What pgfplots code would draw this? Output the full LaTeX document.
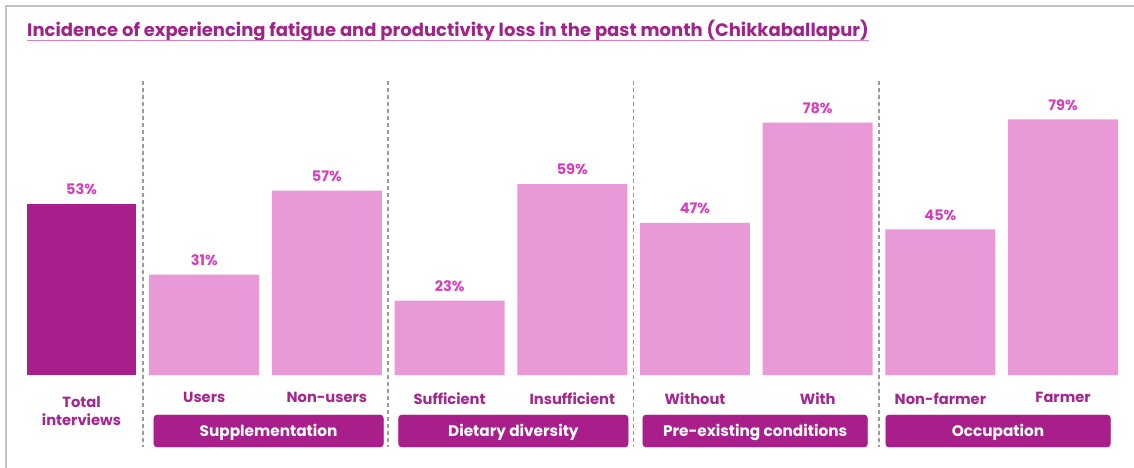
\documentclass[border=0pt]{standalone}
\usepackage{fontspec}
\setmainfont{Poppins}
\usepackage{pgfplots}
\pgfplotsset{compat=1.18}
\definecolor{dark}{HTML}{A81F8B}
\definecolor{light}{HTML}{E998D8}
\definecolor{vallab}{HTML}{D63FBB}
\definecolor{catlab}{HTML}{A3278E}
\definecolor{titlec}{HTML}{A0238A}
\definecolor{titleline}{HTML}{D77CC6}
\definecolor{sepc}{HTML}{9A9A9A}
\definecolor{framec}{HTML}{C4C4C4}
\begin{document}
\begin{tikzpicture}
\useasboundingbox (0,0) rectangle (1134pt,-467pt);
\draw[framec, line width=1.5pt] (6pt,-480pt) -- (6pt,-6pt) -- (1150pt,-6pt);
\node[anchor=base west, font=\fontsize{18}{20}\selectfont\bfseries, text=titlec, inner sep=0] (T) at (27pt,-36.5pt) {Incidence of experiencing fatigue and productivity loss in the past month (Chikkaballapur)};
\draw[titleline, line width=1pt] ([yshift=-3.5pt]T.base west) -- ([yshift=-3.5pt]T.base east);
\begin{axis}[
  at={(20.15pt,-375pt)}, anchor=south west,
  scale only axis, width=1104.3pt, height=323.5pt,
  xmin=-0.5, xmax=8.5, ymin=0, ymax=100,
  axis line style={draw=none}, tick style={draw=none},
  ytick=\empty,
  xtick={0,...,8},
  xticklabels={{\rule{0pt}{15pt}Total\\interviews},Users,Non-users,Sufficient,Insufficient,Without,With,Non-farmer,Farmer},
  xticklabel style={font=\fontsize{14.7}{18}\selectfont\bfseries, text=catlab, align=center, anchor=north, inner sep=0pt, yshift=-13pt},
  /pgf/number format/assume math mode=true,
  clip=false,
  ybar, bar width=0.896,
  nodes near coords={\pgfmathprintnumber{\pgfplotspointmeta}\%},
  nodes near coords style={font=\fontsize{14.5}{16}\selectfont\bfseries, text=vallab, anchor=south, inner sep=0pt, text depth=0pt, yshift=9pt},
]
\addplot[fill=dark, draw=none, bar shift=0pt] coordinates {(0,53)};
\addplot[fill=light, draw=none, bar shift=0pt] coordinates {(1,31) (2,57) (3,23) (4,59) (5,47) (6,78) (7,45) (8,79)};
\foreach \s in {0.5,2.5,4.5,6.5} {
  \edef\temp{\noexpand\draw[sepc, line width=1.5pt, dash pattern=on 4pt off 3pt] (axis cs:\s,91) -- (axis cs:\s,-22.3);}
  \temp
}
\foreach \c/\w/\lab in {1.525/0.935/Supplementation, 3.52/0.935/Dietary diversity, 5.49/0.915/Pre-existing conditions, 7.47/0.915/Occupation} {
  \edef\temp{\noexpand\draw[fill=dark, draw=dark, rounded corners=3pt] (axis cs:\c-\w,-12.36) rectangle (axis cs:\c+\w,-22.26);
  \noexpand\node[font=\noexpand\fontsize{15.3}{18}\noexpand\selectfont\noexpand\bfseries, text=white] at (axis cs:\c,-17.8) {\lab};}
  \temp
}
\end{axis}
\end{tikzpicture}
\end{document}
